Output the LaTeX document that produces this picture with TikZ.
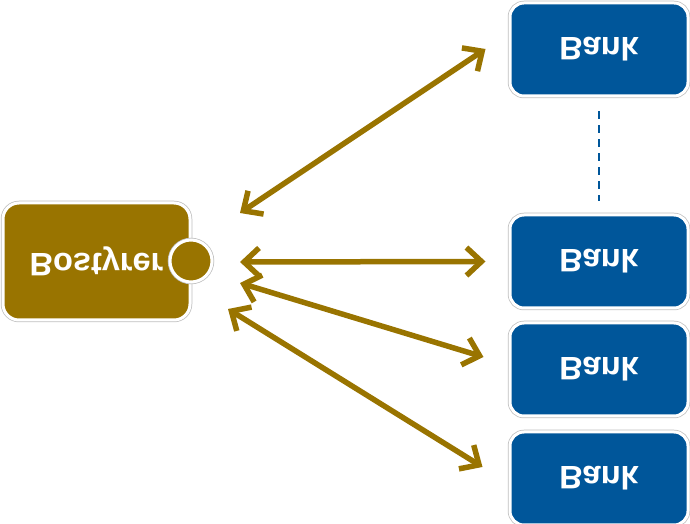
\documentclass[tikz,border=0pt]{standalone}
\usepackage{fontspec}
\setmainfont{Liberation Sans}
\usetikzlibrary{positioning,arrows.meta}
\definecolor{bankblue}{RGB}{0,86,154}
\definecolor{olive}{RGB}{153,116,0}
\begin{document}
\begin{tikzpicture}[
			x=1pt, y=1pt,
			bank/.style={rectangle, rounded corners=14pt, fill=bankblue, draw=white, line width=3pt,
				preaction={draw=black!25, line width=4.5pt},
				minimum width=178pt, minimum height=93pt, text=white,
				font=\fontsize{32.5}{36}\selectfont\bfseries},
			estate/.style={rectangle, rounded corners=16pt, fill=olive, draw=white, line width=3pt,
				preaction={draw=black!25, line width=4.5pt},
				minimum width=187pt, minimum height=117pt, text=white,
				font=\fontsize{32.5}{36}\selectfont\bfseries},
			plugstyle/.style={circle, fill=olive, draw=white, line width=3pt,
				preaction={draw=black!25, line width=4.5pt}, minimum size=42pt, inner sep=0pt},
			link/.style={olive, line width=5.5pt, line join=miter,
				{Straight Barb[length=15pt, width=28pt]}-{Straight Barb[length=15pt, width=28pt]}},
			gap/.style={bankblue, line width=2pt, dash pattern=on 8pt off 6pt}
			]
			\useasboundingbox (0,0) rectangle (690,524);
			
			% Bostyrer
			\node[estate] (bost) at (96.5,262.5) {\scalebox{1}[-1]{Bostyrer}};
			\node[plugstyle] (plug) at (191,263) {};
			
			% Banks
			\node[bank] (bank1) at (599,474.5) {\scalebox{1}[-1]{Bank}};
			\node[bank] (bank2) at (599,262.5) {\scalebox{1}[-1]{Bank}};
			\node[bank, below=12pt of bank2] (bank3) {\scalebox{1}[-1]{Bank}};
			\node[bank, below=13pt of bank3] (bank4) {\scalebox{1}[-1]{Bank}};
			
			% Dots between
			\draw[gap] ([yshift=-14pt]bank1.south) -- ([yshift=12pt]bank2.north);
			
			% Arrows
			\draw[link] ([shift={(49,48)}]plug.center) -- ([shift={(-23,0.5)}]bank1.west);
			\draw[link] ([shift={(49,-1)}]plug.center) -- ([shift={(-23,0)}]bank2.west);
			\draw[link] ([shift={(49,-22)}]plug.center) -- ([shift={(-25,12.5)}]bank3.west);
			\draw[link] ([shift={(37,-48)}]plug.center) -- ([shift={(-26,11.5)}]bank4.west);
			
		\end{tikzpicture}
\end{document}
